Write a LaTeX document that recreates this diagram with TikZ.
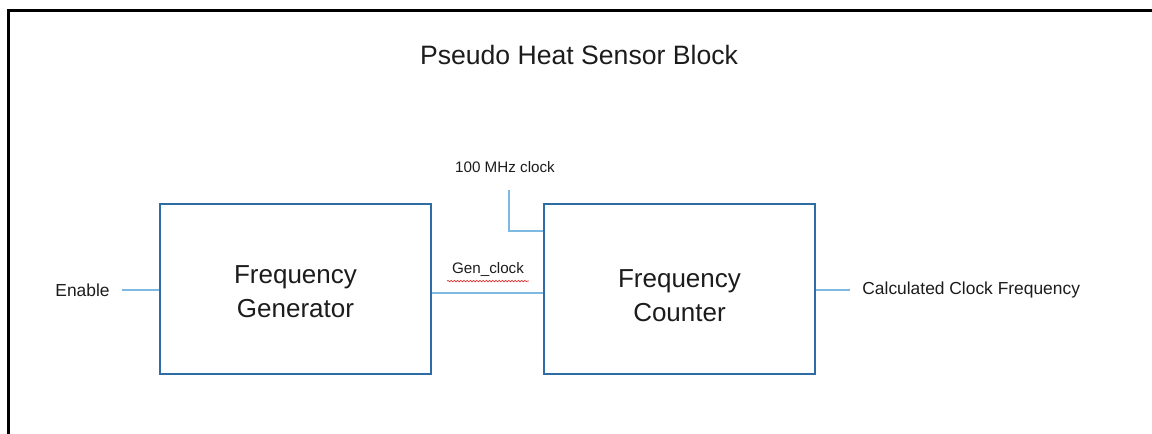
\documentclass[tikz,border=0pt]{standalone}
\usepackage{fontspec}
\setmainfont{Liberation Sans}
\usepackage{tikz}
\usetikzlibrary{calc,positioning,decorations.pathmorphing}
\definecolor{frameInk}{HTML}{000000}
\definecolor{textInk}{HTML}{1C1C1C}
\definecolor{boxBlue}{HTML}{2E6DA4}
\definecolor{wireBlue}{HTML}{7DB9E3}
\definecolor{spellRed}{HTML}{E03030}
\tikzset{
  every node/.style={text=textInk},
  block/.style={draw=boxBlue, fill=white, line width=1pt,
    minimum width=135.5pt, minimum height=85pt, align=center,
    font=\fontsize{13}{17}\selectfont},
  wire/.style={draw=wireBlue, line width=.6pt},
  siglabel/.style={font=\fontsize{8.7}{10}\selectfont, inner xsep=6pt},
  clklabel/.style={font=\fontsize{7.6}{9}\selectfont},
  spellmark/.style={draw=spellRed, line width=.35pt,
    decorate, decoration={snake, amplitude=.35pt, segment length=1.6pt}},
  titletext/.style={font=\fontsize{13.3}{16}\selectfont}
}

\begin{document}
\begin{tikzpicture}[x=0.5pt,y=-0.5pt]
\useasboundingbox (0,0) rectangle (1152,434);

% ---------------------------------------------------------------------------
% Page frame and title.
% ---------------------------------------------------------------------------
\draw[frameInk, line width=1.5pt] (8,434) -- (8,10) -- (1152,10);
\node[titletext] (title) at (579,55) {Pseudo Heat Sensor Block};

% ---------------------------------------------------------------------------
% The two blocks (struts push the text a little down, as in the drawing).
% ---------------------------------------------------------------------------
\node[block] (gen) at (295.5,289) {\rule{0pt}{11.6pt}Frequency\\Generator};
\node[block] (cnt) at (679.5,289) {\rule{0pt}{15.4pt}Frequency\\Counter};

% ---------------------------------------------------------------------------
% Signals.
% ---------------------------------------------------------------------------
\node[siglabel, anchor=east] (enable) at (122,290) {Enable};
\draw[wire] (enable.east) -- (enable.east -| gen.west);

\node[clklabel] (genlbl) at (488,269) {Gen\_clock};
\draw[spellmark] ([xshift=1pt,yshift=1pt]genlbl.south west) -- ([xshift=-1pt,yshift=1pt]genlbl.south east);
\draw[wire] ([yshift=-2pt]gen.east) -- ([yshift=-2pt]gen.east -| cnt.west);

\node[clklabel] (clk) at (505,167) {100 MHz clock};
\draw[wire] ([xshift=2pt,yshift=-5pt]clk.south) |- ([yshift=-14pt]cnt.north west);

\node[siglabel, anchor=west] (calc) at (850,290) {Calculated Clock Frequency};
\draw[wire] (calc.west) -- (calc.west -| cnt.east);

\end{tikzpicture}
\end{document}
